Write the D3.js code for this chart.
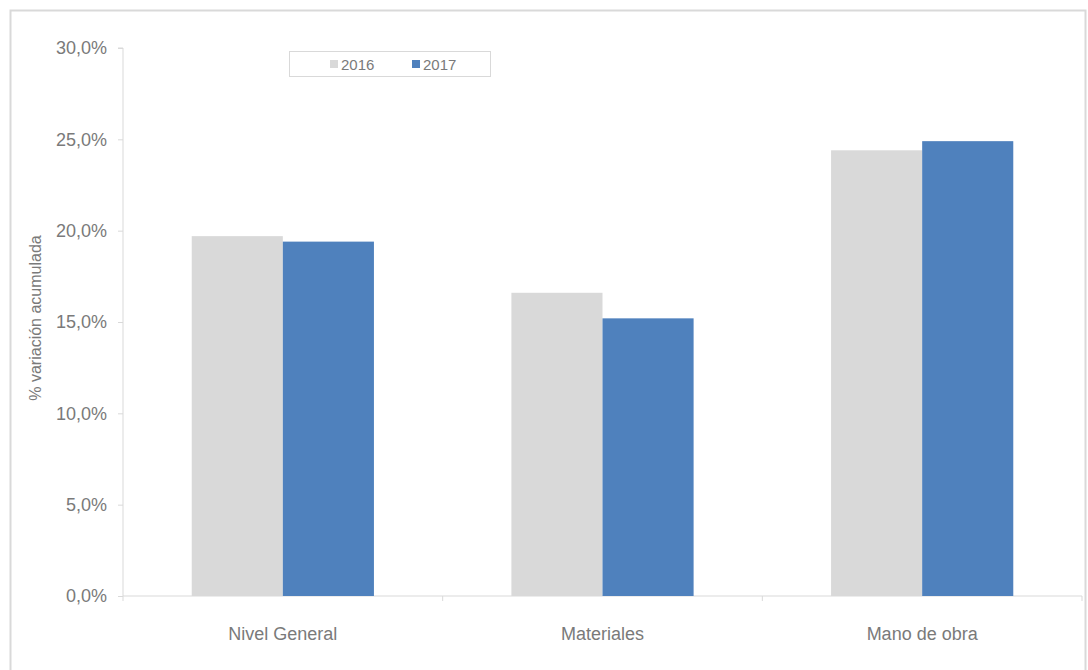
<!DOCTYPE html>
<html>
<head>
<meta charset="utf-8">
<script src="https://cdn.jsdelivr.net/npm/d3@7"></script>
<style>
  html, body { margin: 0; padding: 0; background: #fff; }
  svg { display: block; font-family: "Liberation Sans", Arial, sans-serif; }
</style>
</head>
<body>
<svg id="chart" width="1088" height="670"></svg>
<script>
// Categories, series and tick labels
const categories = ["Nivel General", "Materiales", "Mano de obra"];
const seriesNames = ["2016", "2017"];
const values2016 = [19.7, 16.6, 24.4];
const values2017 = [19.4, 15.2, 24.9];
const yTicks = [0, 5, 10, 15, 20, 25, 30];
const yTitle = "% variación acumulada";
const colors = ["#d9d9d9", "#4f81bd"];

const svg = d3.select("#chart");
const textColor = "#7a7a7a";
const lineColor = "#d9d9d9";

// Outer chart frame
svg.append("rect")
  .attr("x", 10.5).attr("y", 10.5)
  .attr("width", 1075).attr("height", 680)
  .attr("fill", "none").attr("stroke", lineColor).attr("stroke-width", 2);

const plot = { left: 123, right: 1082, top: 48, bottom: 596 };

const x0 = d3.scaleBand().domain(categories).range([plot.left, plot.right]).paddingInner(0).paddingOuter(0);
const inner = 0.215; // outer padding fraction within each category
const x1 = d3.scaleBand().domain(seriesNames)
  .range([x0.bandwidth() * inner, x0.bandwidth() * (1 - inner)]).padding(0);
const y = d3.scaleLinear().domain([0, 30]).range([plot.bottom, plot.top]);

const fmt = v => d3.format(".1f")(v).replace(".", ",") + "%";

// Y axis
const yAxis = svg.append("g")
  .attr("transform", `translate(${plot.left},0)`)
  .call(d3.axisLeft(y).tickValues(yTicks).tickFormat(fmt).tickSize(5).tickPadding(11));
yAxis.select(".domain").attr("stroke", lineColor).attr("d", `M-5,${plot.top}H0V${plot.bottom + 5}`);
yAxis.selectAll(".tick line").attr("stroke", lineColor);
yAxis.selectAll(".tick text")
  .attr("fill", textColor)
  .style("font-family", "'Liberation Sans', Arial, sans-serif")
  .style("font-size", "18px");

// X axis with tick marks at category boundaries
const xAxisG = svg.append("g").attr("transform", `translate(0,${plot.bottom})`);
xAxisG.append("line")
  .attr("x1", plot.left).attr("x2", plot.right)
  .attr("stroke", lineColor).attr("stroke-width", 1);
const boundaries = categories.map(c => x0(c) + x0.bandwidth());
xAxisG.selectAll("line.sep").data(boundaries).enter().append("line")
  .attr("class", "sep")
  .attr("x1", d => d).attr("x2", d => d)
  .attr("y1", 0).attr("y2", 5)
  .attr("stroke", lineColor);
xAxisG.selectAll("text.cat").data(categories).enter().append("text")
  .attr("class", "cat")
  .attr("x", d => x0(d) + x0.bandwidth() / 2)
  .attr("y", 44)
  .attr("text-anchor", "middle")
  .attr("fill", textColor)
  .style("font-size", "18px")
  .text(d => d);

// Bars
const rows = categories.map((c, i) => ({ cat: c, vals: [values2016[i], values2017[i]] }));
const groups = svg.append("g").selectAll("g").data(rows).enter().append("g")
  .attr("transform", d => `translate(${x0(d.cat)},0)`);
groups.selectAll("rect")
  .data(d => d.vals.map((v, j) => ({ key: seriesNames[j], v, j })))
  .enter().append("rect")
  .attr("x", d => x1(d.key))
  .attr("width", x1.bandwidth())
  .attr("y", d => y(d.v))
  .attr("height", d => y(0) - y(d.v))
  .attr("fill", d => colors[d.j]);

// Y axis title
svg.append("text")
  .attr("transform", `translate(40.5,318) rotate(-90)`)
  .attr("text-anchor", "middle")
  .attr("fill", textColor)
  .style("font-size", "16px")
  .text(yTitle);

// Legend
const legend = svg.append("g");
legend.append("rect")
  .attr("x", 289.5).attr("y", 51.5).attr("width", 201).attr("height", 25)
  .attr("fill", "#fff").attr("stroke", lineColor);
const legendX = [330, 412];
seriesNames.forEach((s, i) => {
  legend.append("rect")
    .attr("x", legendX[i]).attr("y", 60).attr("width", 8).attr("height", 8)
    .attr("fill", colors[i]);
  legend.append("text")
    .attr("x", legendX[i] + 11).attr("y", 69.5)
    .attr("fill", textColor)
    .style("font-size", "15px")
    .text(s);
});
</script>
</body>
</html>
